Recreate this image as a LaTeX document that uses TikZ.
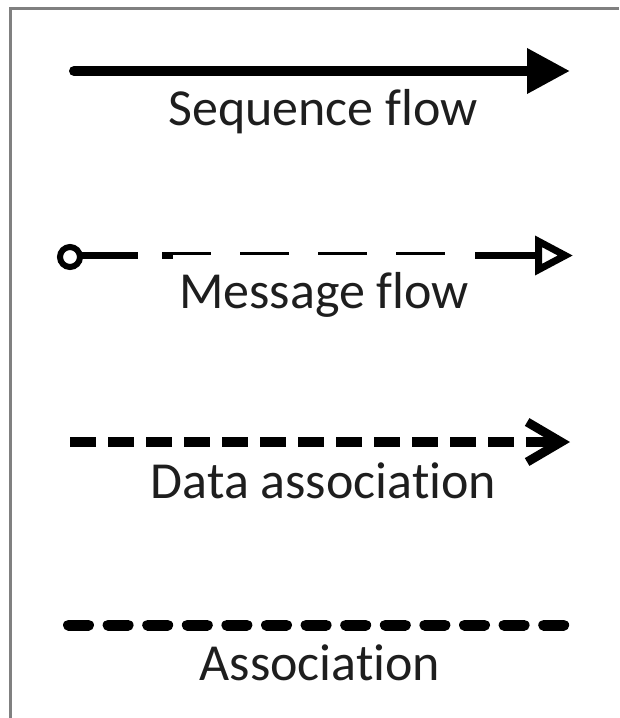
\documentclass[tikz,border=0pt]{standalone}
\usepackage{fontspec}
\setmainfont{Carlito}[RawFeature={-liga;-clig;-dlig;-calt}]
\usetikzlibrary{arrows.meta}
\definecolor{framegray}{HTML}{808080}
\definecolor{txt}{HTML}{1e1e1e}
\tikzset{
  legendtext/.style={anchor=base, text=txt, inner sep=0pt, font=\fontsize{52}{60}\selectfont},
  frameline/.style={draw=framegray, line width=2.5pt},
  seqline/.style={line width=10pt, line cap=round, -{Triangle[length=43pt,width=43pt]}},
  msgsolid/.style={line width=7pt},
  msgdash/.style={line width=3pt, dash pattern=on 49pt off 29pt},
  dataline/.style={line width=10pt, dash pattern=on 26pt off 12pt, -{Straight Barb[length=34pt,width=40pt,line width=9pt]}},
  assocline/.style={line width=11pt, line cap=round, dash pattern=on 20pt off 19.6pt},
}
\begin{document}
\begin{tikzpicture}[x=1pt,y=-1pt]
\useasboundingbox (0,0) rectangle (619,718);
% frame
\coordinate (fb) at (10.5,718);
\coordinate (ftl) at (10.5,8.5);
\coordinate (fr) at (619,8.5);
\draw[frameline] (fb) -- (ftl) -- (fr);

% Sequence flow
\coordinate (s1) at (74,71);
\coordinate (s2) at (570,71);
\draw[seqline] (s1) -- (s2);
\node[legendtext] (seq) at (323,125) {Sequence flow};

% Message flow
\node[circle, draw, line width=6pt, minimum size=20pt, inner sep=0pt] (mc) at (70,257) {};
\coordinate (m0) at (80,255.5);
\coordinate (m1) at (138,255.5);
\coordinate (m2) at (162,255.5);
\coordinate (m2b) at (173,255.5);
\coordinate (d0) at (162,253.5);
\coordinate (m3) at (449,253.5);
\coordinate (m4) at (475,255.5);
\coordinate (m5) at (573,255.5);
\draw[msgsolid] (m0) -- (m1);
\draw[msgsolid] (m2) -- (m2b);
\draw[msgdash] (d0) -- (m3);
\draw[msgsolid, -{Triangle[open,length=38pt,width=38pt,line width=7pt]}] (m4) -- (m5);
\node[legendtext] (msg) at (324,308) {Message flow};

% Data association
\coordinate (d1) at (70,442);
\coordinate (d2) at (570,442);
\draw[dataline] (d1) -- (d2);
\node[legendtext] (dat) at (323.5,498) {Data association};

% Association
\coordinate (a1) at (68.5,625);
\coordinate (a2) at (564,625);
\draw[assocline] (a1) -- (a2);
\node[legendtext] (asc) at (320,680) {Association};
\end{tikzpicture}
\end{document}
